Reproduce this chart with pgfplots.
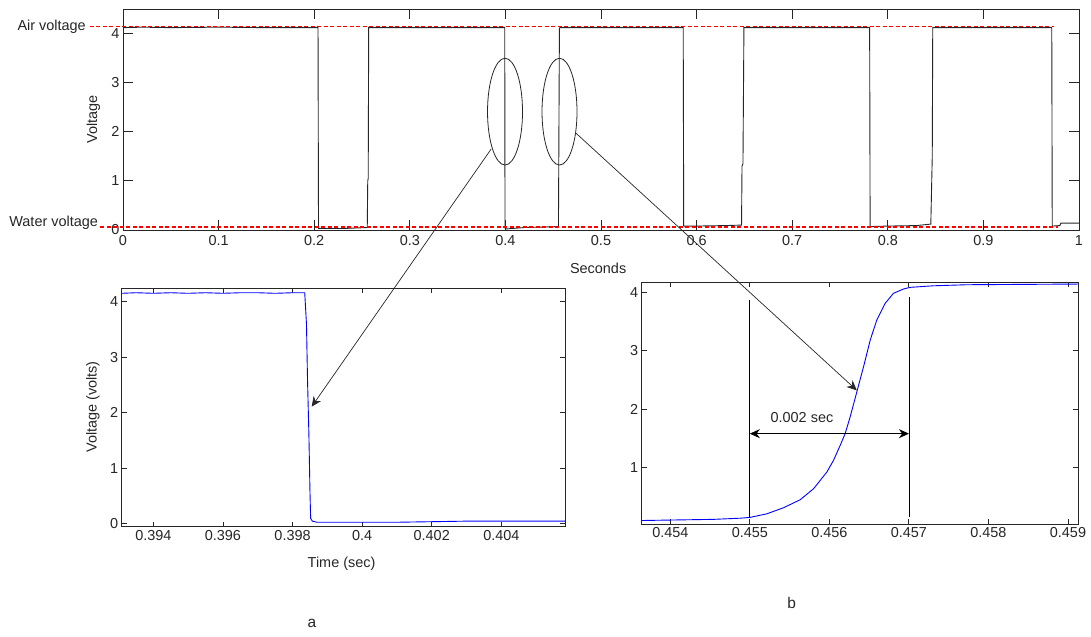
\documentclass[border=0pt]{standalone}
\usepackage{pgfplots}
\pgfplotsset{compat=1.18}
\usepackage{fontspec}
\setmainfont{Liberation Sans}
\usetikzlibrary{arrows.meta}
\begin{document}
\begin{tikzpicture}
\pgfplotsset{
  every axis/.append style={
    scale only axis, anchor=south west, axis line style={line width=0.9bp, black!85},
    tick align=inside, xtick pos=both, ytick pos=both,
    tick style={line width=0.9bp, black!85},
    /pgf/number format/assume math mode=true,
    tick label style={font=\fontsize{14.5}{16}\selectfont, black!85},
    label style={font=\fontsize{14.5}{16}\selectfont, black!85},
    scaled ticks=false, clip=false,
  }
}
% ---------------- top axis ----------------
\begin{axis}[at={(123bp,407bp)}, width=956bp, height=221bp,
  xmin=0, xmax=1, ymin=0, ymax=4.5,
  xtick={0,0.1,...,1.0}, xticklabels={0,0.1,0.2,0.3,0.4,0.5,0.6,0.7,0.8,0.9,1},
  ytick={0,1,2,3,4},
  major tick length=10bp,
  xlabel={Seconds}, ylabel={Voltage},
  xlabel style={at={(axis description cs:0.497,-0.172)}, anchor=center},
  ylabel style={at={(axis description cs:-0.031,0.5)}, anchor=center},
  xticklabel style={yshift=-2bp},
]
\addplot[black!85, line width=0.9bp] coordinates {
(0,4.12) (0.02,4.13) (0.05,4.12) (0.1,4.13) (0.15,4.12) (0.204,4.12)
(0.2045,0.03) (0.23,0.03) (0.2555,0.05) (0.256,1.0) (0.2565,1.05) (0.257,4.12)
(0.3,4.12) (0.35,4.12) (0.3993,4.12) (0.3996,0.05) (0.40,0.02) (0.42,0.05) (0.44,0.06) (0.4555,0.07)
(0.4565,4.1) (0.457,4.12) (0.5,4.12) (0.55,4.12) (0.586,4.12)
(0.5865,0.08) (0.6,0.08) (0.63,0.09) (0.647,0.1) (0.6475,1.3) (0.6485,1.35) (0.6495,4.12)
(0.7,4.12) (0.75,4.12) (0.781,4.12)
(0.7815,0.07) (0.8,0.08) (0.83,0.09) (0.845,0.12) (0.8465,1.5) (0.847,4.12)
(0.9,4.12) (0.9715,4.12) (0.972,0.08) (0.98,0.09) (0.981,0.14) (1.0,0.14)
};
\draw[red, line width=1.1bp, dash pattern=on 4bp off 2.5bp] (axis cs:-0.035,4.15) -- (axis cs:0.974,4.15);
\draw[red, line width=1.1bp, dash pattern=on 4bp off 2.5bp] (axis cs:-0.024,0.06) -- (axis cs:0.978,0.06);
\node[anchor=east, inner sep=0pt, font=\fontsize{14.5}{16}\selectfont, black!85] at (axis cs:-0.0387,4.14) {Air voltage};
\node[anchor=east, inner sep=0pt, font=\fontsize{14.5}{16}\selectfont, black!85] at (axis cs:-0.026,0.14) {Water voltage};
\draw[black!85, line width=0.8bp] (axis cs:0.3996,2.41) ellipse [x radius=0.0183, y radius=1.087];
\draw[black!85, line width=0.8bp] (axis cs:0.4566,2.41) ellipse [x radius=0.0183, y radius=1.087];
\coordinate (s1) at (axis cs:0.385,1.646);
\coordinate (s2) at (axis cs:0.4739,1.97);
\end{axis}
% ---------------- bottom-left axis (a) ----------------
\begin{axis}[at={(121.7bp,110.3bp)}, width=443.3bp, height=238.4bp,
  xmin=0.39309, xmax=0.40583, ymin=-0.05, ymax=4.24,
  xtick={0.394,0.396,0.398,0.4,0.402,0.404},
  xticklabels={0.394,0.396,0.398,0.4,0.402,0.404},
  ytick={0,1,2,3,4},
  major tick length=5bp,
  xlabel={Time (sec)}, ylabel={Voltage (volts)},
  xlabel style={at={(axis description cs:0.496,-0.156)}, anchor=center},
  ylabel style={at={(axis description cs:-0.065,0.502)}, anchor=center},
]
\addplot[blue, line width=0.9bp] coordinates {
(0.39309,4.15) (0.3935,4.16) (0.394,4.15) (0.3945,4.16) (0.395,4.15) (0.3955,4.16) (0.396,4.15)
(0.3965,4.16) (0.397,4.16) (0.3975,4.15) (0.398,4.16) (0.39835,4.16)
(0.3984,3.6) (0.39843,2.6) (0.39845,2.1) (0.39847,1.6) (0.3985,0.6) (0.39852,0.1) (0.39857,0.05)
(0.3987,0.03) (0.401,0.03) (0.402,0.04) (0.403,0.05) (0.40583,0.05)
};
\node[font=\fontsize{15.5}{17}\selectfont, black!85] at (axis description cs:0.429,-0.404) {a};
\coordinate (t1) at (axis cs:0.39855,2.11);
\end{axis}
% ---------------- bottom-right axis (b) ----------------
\begin{axis}[at={(641.7bp,113bp)}, width=436.6bp, height=241.7bp,
  xmin=0.45364, xmax=0.45913, ymin=0.02, ymax=4.18,
  xtick={0.454,0.455,0.456,0.457,0.458,0.459},
  xticklabels={0.454,0.455,0.456,0.457,0.458,0.459},
  ytick={1,2,3,4},
  major tick length=5bp,
]
\addplot[blue, line width=0.9bp] coordinates {
(0.45364,0.08) (0.454544,0.10) (0.45488,0.12) (0.455,0.133) (0.455215,0.196) (0.455424,0.30)
(0.455633,0.438) (0.455801,0.627) (0.455968,0.914) (0.456052,1.116) (0.456136,1.374)
(0.456198,1.575) (0.456261,1.862) (0.456345,2.293) (0.456429,2.724) (0.456513,3.184)
(0.456596,3.53) (0.456701,3.817) (0.456805,3.99) (0.456931,4.064) (0.457015,4.093)
(0.457308,4.12) (0.457726,4.138) (0.45913,4.15)
};
\draw[black, line width=0.8bp] (axis cs:0.455,0.12) -- (axis cs:0.455,3.87);
\draw[black, line width=0.8bp] (axis cs:0.457,0.14) -- (axis cs:0.457,3.93);
\draw[black, line width=0.8bp, {Stealth[length=10bp,width=9bp]}-{Stealth[length=10bp,width=9bp]}] (axis cs:0.455,1.575) -- (axis cs:0.457,1.575);
\node[font=\fontsize{14.5}{16}\selectfont, black!85] at (axis cs:0.455655,1.845) {0.002 sec};
\node[font=\fontsize{15.5}{17}\selectfont, black!85] at (axis description cs:0.3436,-0.327) {b};
\coordinate (t2) at (axis cs:0.456345,2.32);
\end{axis}
\draw[black!85, line width=0.7bp, -{Stealth[length=10bp,width=9bp]}] (s1) -- (t1);
\draw[black!85, line width=0.7bp, -{Stealth[length=10bp,width=9bp]}] (s2) -- (t2);
\useasboundingbox (0,0) rectangle (1091bp,637bp);
\end{tikzpicture}
\end{document}
